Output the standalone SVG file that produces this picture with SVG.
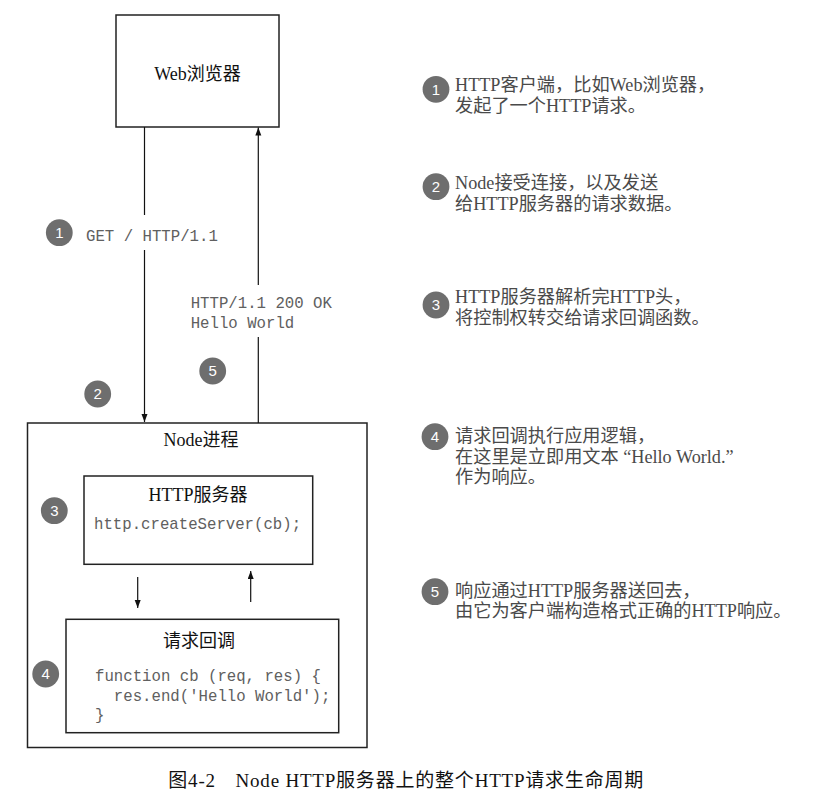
<svg xmlns="http://www.w3.org/2000/svg" width="820" height="809" viewBox="0 0 820 809">
<defs>
<marker id="arr" markerUnits="userSpaceOnUse" markerWidth="9" markerHeight="7" refX="8" refY="3" orient="auto">
<path d="M0,0 L8,3 L0,6 z" fill="#111"/>
</marker>
<style>
.box{fill:#fff;stroke:#222;stroke-width:1.5}
.line{stroke:#111;stroke-width:1.2;fill:none}
.title{font-family:"Liberation Serif","Noto Sans CJK SC",serif;font-size:18px;fill:#111;text-anchor:middle}
.mono{font-family:"Liberation Mono",monospace;font-size:15.7px;fill:#606060}
.desc{font-family:"Liberation Serif","Noto Sans CJK SC",serif;font-size:18.2px;fill:#4a4a4a}
.badge circle{fill:#6e6e6e}
.badge text{font-family:"Liberation Sans",sans-serif;font-size:15px;fill:#fff;text-anchor:middle}
.cap{font-family:"Liberation Serif","Noto Sans CJK SC",serif;font-size:19px;fill:#111}
</style>
</defs>
<rect width="820" height="809" fill="#fff"/>

<g id="browser">
<rect class="box" x="116" y="15" width="163" height="112"/>
<text class="title" x="197.5" y="80">Web浏览器</text>
</g>

<g id="node-process">
<rect class="box" x="27.5" y="423" width="339.5" height="324.5"/>
<text class="title" x="201" y="446">Node进程</text>
</g>

<g id="http-server">
<rect class="box" x="84" y="476" width="228.7" height="88.3"/>
<text class="title" x="198" y="501">HTTP服务器</text>
<text class="mono" x="94" y="529">http.createServer(cb);</text>
</g>

<g id="callback">
<rect class="box" x="66" y="619.3" width="272.7" height="113.4"/>
<text class="title" x="199" y="647">请求回调</text>
<text class="mono" x="95" y="681" xml:space="preserve">function cb (req, res) {</text>
<text class="mono" x="95" y="701" xml:space="preserve">  res.end('Hello World');</text>
<text class="mono" x="95" y="720">}</text>
</g>

<g id="connectors">
<line class="line" x1="144.5" y1="127" x2="144.5" y2="215"/>
<line class="line" x1="144.5" y1="250" x2="144.5" y2="422" marker-end="url(#arr)"/>
<line class="line" x1="258.3" y1="423" x2="258.3" y2="337"/>
<line class="line" x1="258.3" y1="285" x2="258.3" y2="127.5" marker-end="url(#arr)"/>
<line class="line" x1="137.7" y1="577" x2="137.7" y2="608" marker-end="url(#arr)"/>
<line class="line" x1="250.7" y1="602" x2="250.7" y2="571" marker-end="url(#arr)"/>
<text class="mono" x="86" y="241">GET / HTTP/1.1</text>
<text class="mono" x="190.7" y="308">HTTP/1.1 200 OK</text>
<text class="mono" x="190.7" y="328">Hello World</text>
</g>

<g id="badges" class="badge">
<circle cx="59.3" cy="232.7" r="13.4"/><text x="59.3" y="238">1</text>
<circle cx="97.7" cy="394" r="13.4"/><text x="97.7" y="399.3">2</text>
<circle cx="212.7" cy="371" r="13.4"/><text x="212.7" y="376.3">5</text>
<circle cx="54.3" cy="510.7" r="13.4"/><text x="54.3" y="516">3</text>
<circle cx="45.7" cy="674" r="13.4"/><text x="45.7" y="679.3">4</text>
</g>

<g id="legend">
<g class="badge"><circle cx="436" cy="89.3" r="13.4"/><text x="436" y="94.6">1</text></g>
<text class="desc" x="455" y="91">HTTP客户端，比如Web浏览器，</text>
<text class="desc" x="455" y="112">发起了一个HTTP请求。</text>

<g class="badge"><circle cx="436" cy="186.7" r="13.4"/><text x="436" y="192">2</text></g>
<text class="desc" x="455" y="189">Node接受连接，以及发送</text>
<text class="desc" x="455" y="210">给HTTP服务器的请求数据。</text>

<g class="badge"><circle cx="436" cy="305" r="13.4"/><text x="436" y="310.3">3</text></g>
<text class="desc" x="455" y="303">HTTP服务器解析完HTTP头，</text>
<text class="desc" x="455" y="324">将控制权转交给请求回调函数。</text>

<g class="badge"><circle cx="435" cy="436.7" r="13.4"/><text x="435" y="442">4</text></g>
<text class="desc" x="455" y="442">请求回调执行应用逻辑，</text>
<text class="desc" x="455" y="463" xml:space="preserve">在这里是立即用文本 “Hello World.”</text>
<text class="desc" x="455" y="483">作为响应。</text>

<g class="badge"><circle cx="435" cy="591.7" r="13.4"/><text x="435" y="597">5</text></g>
<text class="desc" x="455" y="597">响应通过HTTP服务器送回去，</text>
<text class="desc" x="455" y="617">由它为客户端构造格式正确的HTTP响应。</text>
</g>

<text class="cap" x="168.3" y="787" textLength="475" lengthAdjust="spacing" xml:space="preserve">图4-2　Node HTTP服务器上的整个HTTP请求生命周期</text>
</svg>
